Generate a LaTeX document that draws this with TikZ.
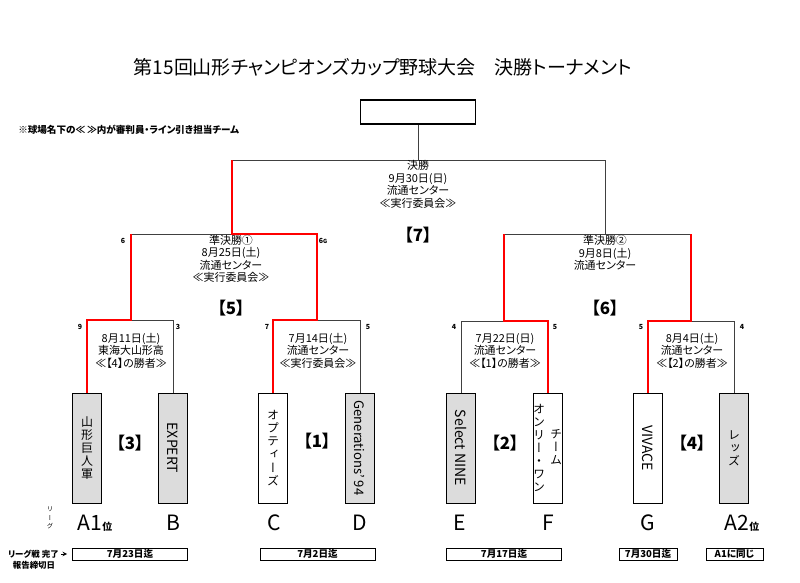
\documentclass[tikz,border=0pt]{standalone}
\usepackage{fontspec}
\setmainfont{Noto Sans CJK JP}[RawFeature=+palt]
\newfontfamily\jpv[RawFeature=+vert]{Noto Sans CJK JP}
\definecolor{boxgray}{HTML}{DCDCDC}
\usetikzlibrary{arrows}

\begin{document}
\begin{tikzpicture}[x=0.025cm,y=-0.025cm,
		bline/.style={draw=black!75,line width=0.6pt},
		wline/.style={draw=red,line width=2pt},
		teambox/.style={draw,line width=0.6pt,minimum width=0.725cm,minimum height=2.75cm,inner sep=0pt},
		vtext/.style={align=center,inner sep=0pt,font=\jpv\fontsize{8.5}{9.3}\selectfont},
		htext/.style={rotate=-90,inner sep=0pt,font=\fontsize{10}{10}\selectfont},
		info/.style={align=center,inner sep=0pt,font=\fontsize{7.8}{8.9}\selectfont},
		mno/.style={inner sep=0pt,font=\bfseries\fontsize{12}{12}\selectfont},
		score/.style={inner sep=0pt,font=\bfseries\fontsize{5}{5}\selectfont},
		lg/.style={inner sep=0pt,font=\fontsize{15}{15}\selectfont},
		dl/.style={draw,line width=0.5pt,minimum height=0.3cm,inner sep=0pt,font=\bfseries\fontsize{6.8}{6.8}\selectfont}]
			\useasboundingbox (0,0) rectangle (800,583);

			\node[inner sep=0pt,font=\fontsize{13.5}{13.5}\selectfont] (ttl) at (383,67) {第15回山形チャンピオンズカップ野球大会　決勝トーナメント};
			\node[anchor=west,inner sep=0pt,font=\bfseries\fontsize{6.8}{6.8}\selectfont] (note) at (18,130) {※球場名下の≪ ≫内が審判員・ライン引き担当チーム};
			\node[draw,line width=0.9pt,minimum width=2.875cm,minimum height=0.6cm,inner sep=0pt] (champ) at (418,112) {};

			\node[teambox,fill=boxgray,vtext] (t1) at (87,448) {山\\形\\巨\\人\\軍};
			\node[teambox,fill=boxgray] (t2) at (173,448) {};
			\node[teambox,fill=white,vtext] (t3) at (273,448) {オ\\プ\\テ\\ィ\\ー\\ズ};
			\node[teambox,fill=boxgray] (t4) at (360,448) {};
			\node[teambox,fill=boxgray] (t5) at (461,448) {};
			\node[teambox,fill=white] (t6) at (548,448) {};
			\node[teambox,fill=white] (t7) at (648,448) {};
			\node[teambox,fill=boxgray,vtext] (t8) at (734,448) {レ\\ッ\\ズ};
			\node[htext] (n2) at (t2) {EXPERT};
			\node[htext,font=\fontsize{9.3}{9.3}\selectfont] (n4) at (t4) {Generations’ 94};
			\node[htext] (n5) at (t5) {Select NINE};
			\node[vtext] (n6a) at (556,447) {チ\\ー\\ム};
			\node[vtext] (n6b) at (539,448) {オ\\ン\\リ\\ー\\・\\ワ\\ン};
			\node[htext] (n7) at (t7) {VIVACE};

			\coordinate (m3) at (131,320);
			\coordinate (m1) at (317,320);
			\coordinate (m2) at (504,321);
			\coordinate (m4) at (691,321);
			\coordinate (s1) at (232,234);
			\coordinate (s2) at (605,234);
			\coordinate (fin) at (418,160);

			\draw[bline] (t2.north) |- (m3);
			\draw[bline] (t4.north) |- (m1);
			\draw[bline] (t5.north) |- (m2);
			\draw[bline] (t8.north) |- (m4);
			\draw[bline] (m3 |- s1) -- (s1);
			\draw[bline] (m2 |- s2) -- (m4 |- s2);
			\draw[bline] (s1 |- fin) -- (s2 |- fin) -- (s2);
			\draw[bline] (fin) -- (champ);
			\draw[wline] (t1.north) |- (m3) -- (m3 |- s1);
			\draw[wline] (t3.north) |- (m1) |- (s1) -- (s1 |- fin);
			\draw[wline] (t6.north) |- (m2) -- (m2 |- s2);
			\draw[wline] (t7.north) |- (m4) -- (m4 |- s2);

			\node[info] (finfo) at (418,184.5) {決勝\\9月30日(日)\\流通センター\\≪実行委員会≫};
			\node[info] (s1info) at (231,259) {準決勝①\\8月25日(土)\\流通センター\\≪実行委員会≫};
			\node[info] (s2info) at (605,253) {準決勝②\\9月8日(土)\\流通センター};
			\node[info] (m3info) at (131,350.5) {8月11日(土)\\東海大山形高\\≪【4】の勝者≫};
			\node[info] (m1info) at (318,350.5) {7月14日(土)\\流通センター\\≪実行委員会≫};
			\node[info] (m2info) at (505,350.5) {7月22日(日)\\流通センター\\≪【1】の勝者≫};
			\node[info] (m4info) at (692,350.5) {8月4日(土)\\流通センター\\≪【2】の勝者≫};

			\node[mno] (k7) at (418,235) {【7】};
			\node[mno] (k5) at (231,308) {【5】};
			\node[mno] (k6) at (605,308) {【6】};
			\node[mno] (k3) at (130,443) {【3】};
			\node[mno] (k1) at (317,441) {【1】};
			\node[mno] (k2) at (505,443) {【2】};
			\node[mno] (k4) at (692,443) {【4】};

			\node[score] (sc1) at (80,327) {9};
			\node[score] (sc2) at (178,327) {3};
			\node[score] (sc3) at (267,327) {7};
			\node[score] (sc4) at (368,327) {5};
			\node[score] (sc5) at (454,327) {4};
			\node[score] (sc6) at (555,327) {5};
			\node[score] (sc7) at (641,327) {5};
			\node[score] (sc8) at (742,327) {4};
			\node[score] (sc9) at (123,241) {6};
			\node[score] (sc10) at (323,241) {6{\fontsize{4}{4}\selectfont G}};

			\node[inner sep=0pt,align=center,font=\jpv\fontsize{4.5}{6}\selectfont] (lgl) at (50,518) {リ\\ー\\グ};
			\node[lg] (la1) at (95,523) {A1{\bfseries\fontsize{7}{7}\selectfont 位}};
			\node[lg] (lb) at (173,523) {B};
			\node[lg] (lc) at (274,523) {C};
			\node[lg] (ld) at (360,523) {D};
			\node[lg] (le) at (460,523) {E};
			\node[lg] (lf) at (548,523) {F};
			\node[lg] (lgg) at (648,523) {G};
			\node[lg] (la2) at (742,523) {A2{\bfseries\fontsize{7}{7}\selectfont 位}};

			\node[dl,minimum width=2.875cm] (d1) at (130,554) {7月23日迄};
			\node[dl,minimum width=2.875cm] (d2) at (317.5,554) {7月2日迄};
			\node[dl,minimum width=2.875cm] (d3) at (504,554) {7月17日迄};
			\node[dl,minimum width=1.45cm] (d4) at (648,554) {7月30日迄};
			\node[dl,minimum width=1.425cm] (d5) at (734.5,554) {A1に同じ};
			\node[anchor=east,inner sep=0pt,font=\bfseries\fontsize{6}{6}\selectfont] (rep1) at (59,554) {リーグ戦 完了};
			\node[inner sep=0pt,font=\bfseries\fontsize{6}{6}\selectfont] (rep2) at (34,565) {報告締切日};
			\draw (rep1) edge [->,>=stealth,shorten <=1.5pt,shorten >=3.5pt,line width=0.5pt] (rep1 -| d1.west);
		\end{tikzpicture}
\end{document}
